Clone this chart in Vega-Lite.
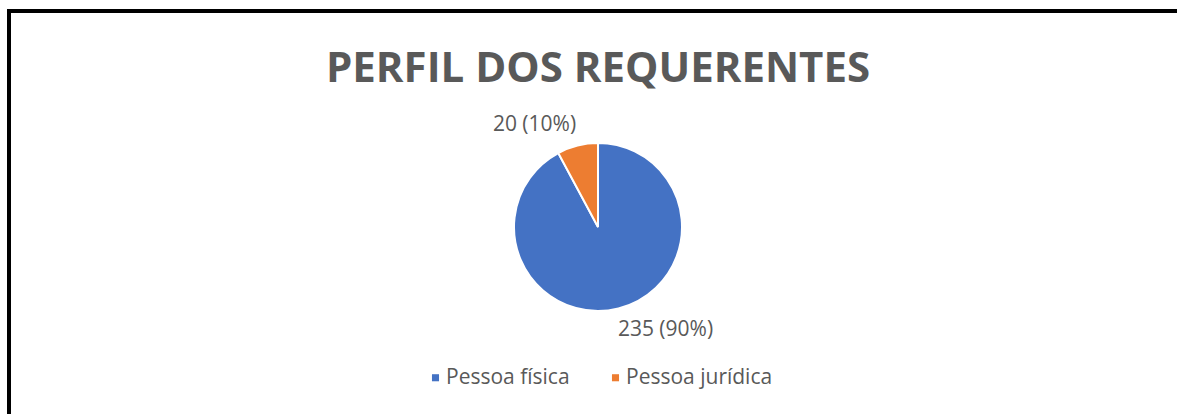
{
  "$schema": "https://vega.github.io/schema/vega-lite/v6.json",
  "width": 1178,
  "height": 432,
  "autosize": {"type": "none"},
  "padding": {"left": 9, "top": 11, "right": 0, "bottom": 0},
  "background": "white",
  "view": {"stroke": "black", "strokeWidth": 4, "fill": "white"},
  "title": {
    "text": "PERFIL DOS REQUERENTES",
    "orient": "top",
    "anchor": "middle",
    "frame": "group",
    "baseline": "alphabetic",
    "offset": -113,
    "font": "Open Sans",
    "fontSize": 42,
    "fontWeight": "bold",
    "color": "#595959"
  },
  "config": {
    "view": {"stroke": "black", "strokeWidth": 4},
    "font": "Open Sans"
  },
  "data": {
    "values": [
      {"categoria": "Pessoa física", "quantidade": 235, "rotulo": "235 (90%)"},
      {"categoria": "Pessoa jurídica", "quantidade": 20, "rotulo": "20 (10%)"}
    ]
  },
  "layer": [
    {
      "mark": {"type": "arc", "outerRadius": 84, "stroke": "white", "strokeWidth": 2},
      "encoding": {
        "theta": {"field": "quantidade", "type": "quantitative", "stack": true},
        "order": {"field": "categoria", "sort": "ascending"},
        "color": {
          "field": "categoria",
          "type": "nominal",
          "scale": {"domain": ["Pessoa física", "Pessoa jurídica"], "range": ["#4472C4", "#ED7D31"]},
          "legend": {
            "title": null,
            "orient": "none",
            "legendX": 416,
            "legendY": 356,
            "direction": "horizontal",
            "symbolType": "square",
            "symbolSize": 50,
            "symbolStrokeWidth": 0,
            "labelFont": "Open Sans",
            "labelFontSize": 21,
            "labelColor": "#595959",
            "labelOffset": 0,
            "columnPadding": 35,
            "padding": 0
          }
        }
      }
    },
    {
      "mark": {"type": "text", "radius": 121, "dx": -34, "dy": 15, "fontSize": 21, "color": "#595959", "font": "Open Sans", "baseline": "middle", "align": "center"},
      "encoding": {
        "theta": {"field": "quantidade", "type": "quantitative", "stack": true},
        "order": {"field": "categoria", "sort": "ascending"},
        "text": {"condition": {"test": "datum.categoria === 'Pessoa jurídica'", "field": "rotulo"}, "value": ""}
      }
    },
    {
      "mark": {"type": "text", "radius": 121, "dx": 38, "dy": -14, "fontSize": 21, "color": "#595959", "font": "Open Sans", "baseline": "middle", "align": "center"},
      "encoding": {
        "theta": {"field": "quantidade", "type": "quantitative", "stack": true},
        "order": {"field": "categoria", "sort": "ascending"},
        "text": {"condition": {"test": "datum.categoria === 'Pessoa física'", "field": "rotulo"}, "value": ""}
      }
    }
  ]
}
